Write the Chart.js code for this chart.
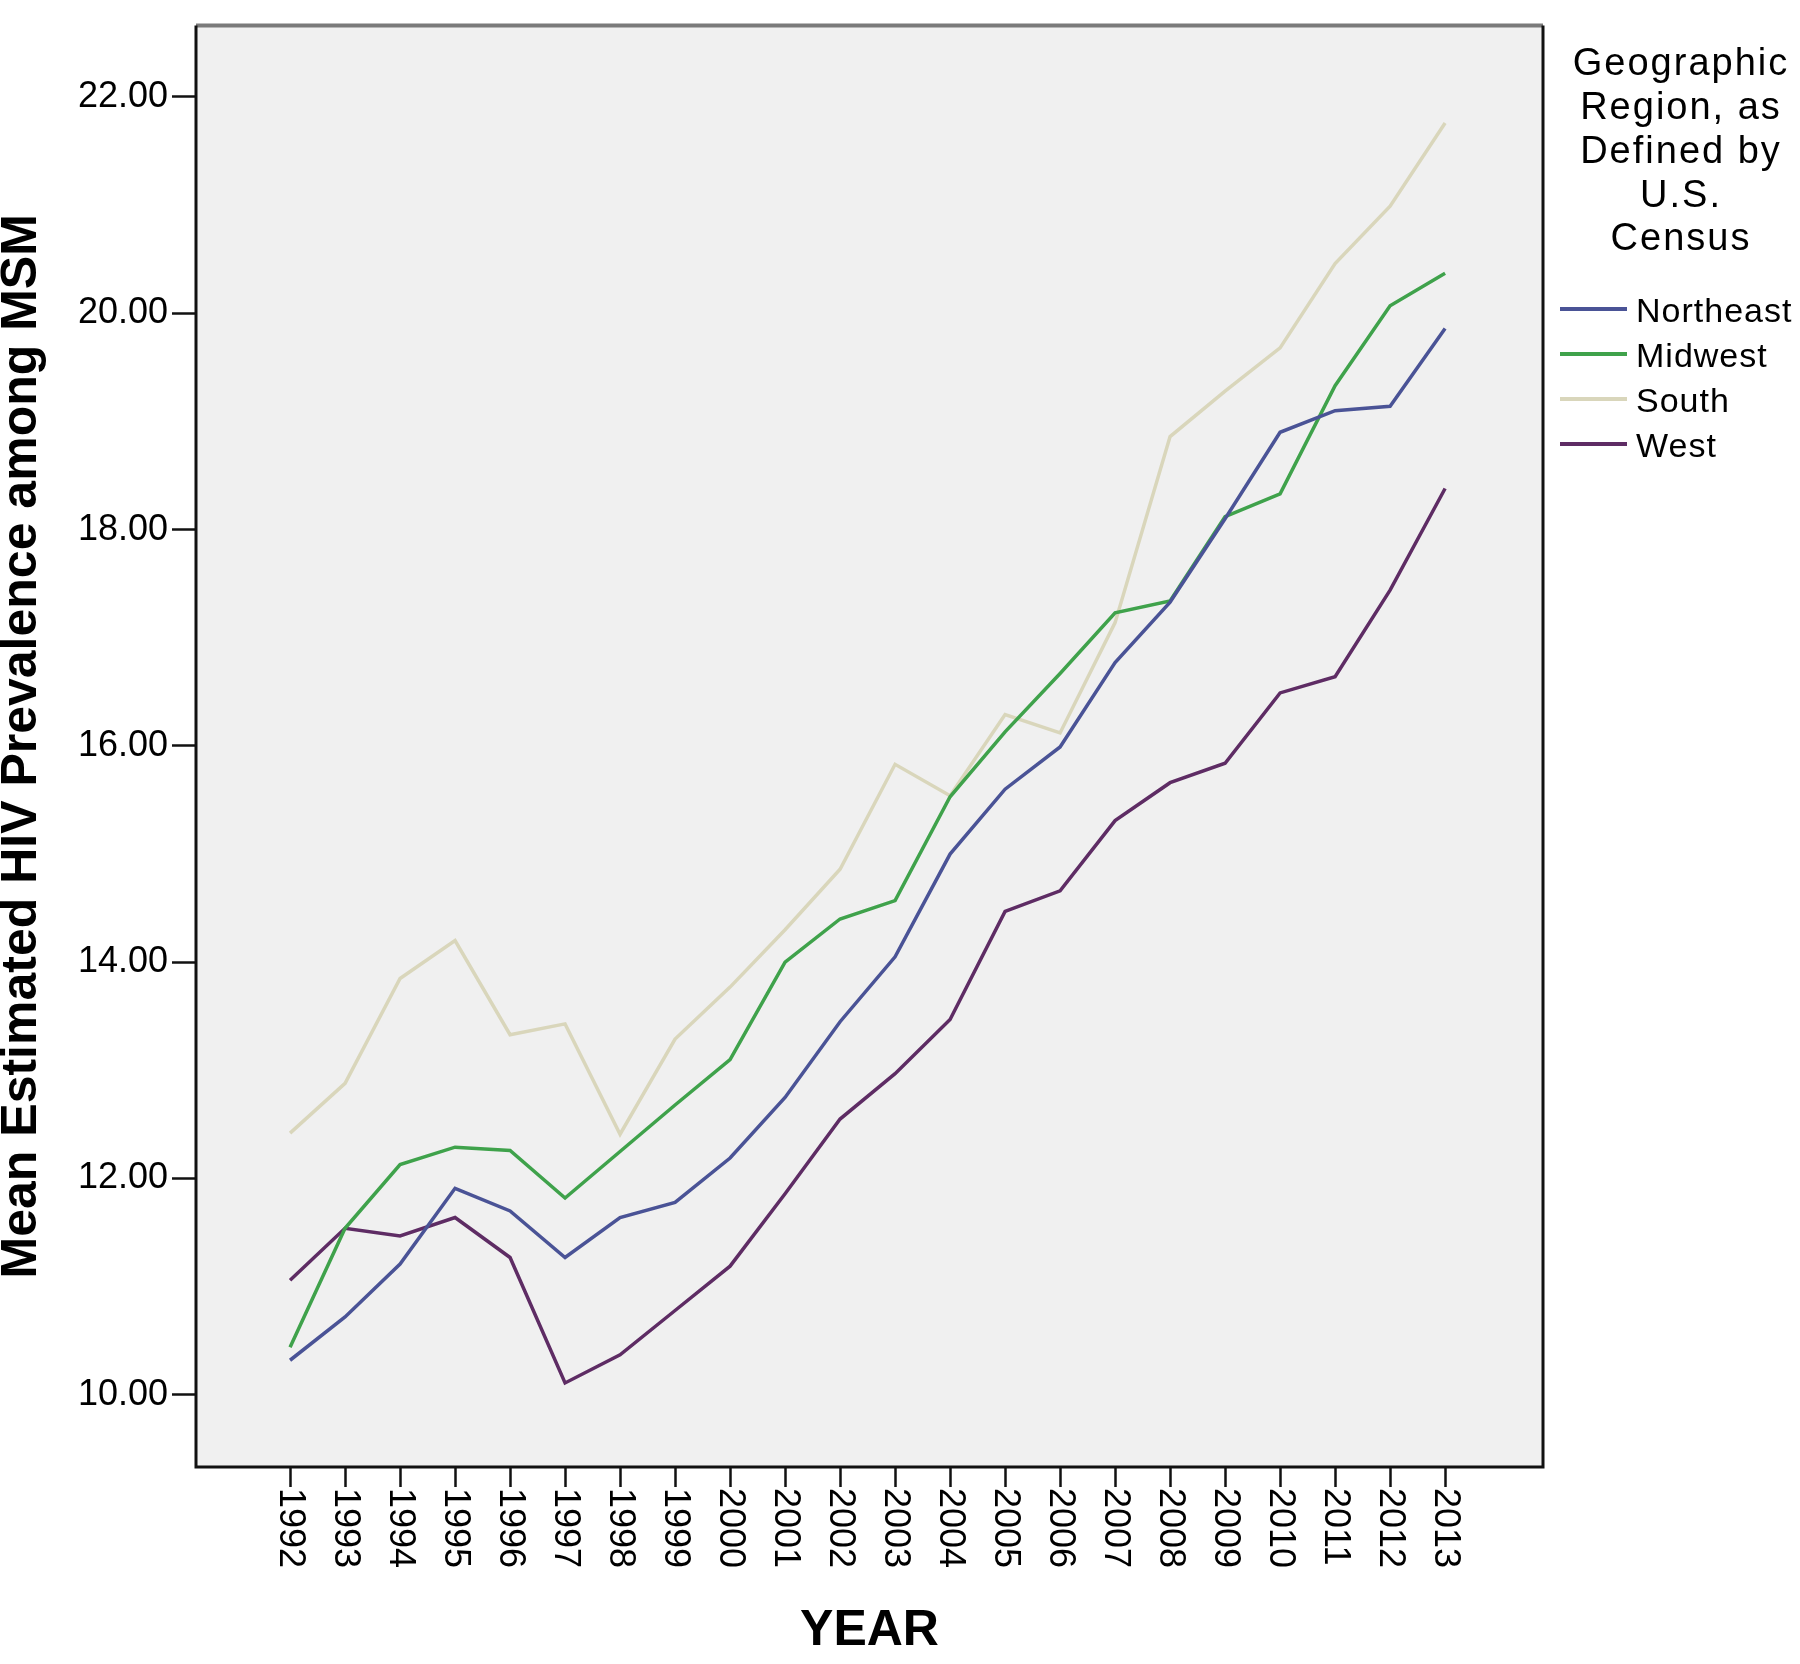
<!DOCTYPE html>
<html>
<head>
<meta charset="utf-8">
<script src="https://cdn.jsdelivr.net/npm/chart.js@4.4.1/dist/chart.umd.min.js"></script>
<style>
    html, body { margin: 0; padding: 0; background: #fff; }
    #wrap { width: 1800px; height: 1664px; }
</style>
</head>
<body>
<div id="wrap"><canvas id="chart"></canvas></div>
<script>
const years = [1992, 1993, 1994, 1995, 1996, 1997, 1998, 1999, 2000, 2001, 2002,
    2003, 2004, 2005, 2006, 2007, 2008, 2009, 2010, 2011, 2012, 2013];

const northeast = [10.32, 10.72, 11.21, 11.91, 11.70, 11.27, 11.64, 11.78, 12.19, 12.75, 13.45,
    14.05, 15.00, 15.60, 15.99, 16.77, 17.33, 18.10, 18.90, 19.10, 19.14, 19.86];
const midwest = [10.44, 11.54, 12.13, 12.29, 12.26, 11.82, 12.25, 12.68, 13.10, 14.00, 14.40,
    14.57, 15.53, 16.13, 16.67, 17.23, 17.34, 18.12, 18.33, 19.33, 20.07, 20.37];
const south = [12.42, 12.88, 13.85, 14.20, 13.33, 13.43, 12.41, 13.29, 13.77, 14.30, 14.86,
    15.83, 15.54, 16.29, 16.12, 17.14, 18.86, 19.28, 19.68, 20.46, 20.99, 21.76];
const west = [11.06, 11.54, 11.47, 11.64, 11.27, 10.11, 10.37, 10.78, 11.19, 11.86, 12.55,
    12.97, 13.47, 14.47, 14.66, 15.31, 15.66, 15.84, 16.49, 16.64, 17.44, 18.38];

const yTicks = [10, 12, 14, 16, 18, 20, 22];
const legendTitle = ["Geographic", "Region, as", "Defined by", "U.S.", "Census"];

const FONT = "'Liberation Sans', Arial, sans-serif";

function toPoints(values) {
    return years.map((y, i) => ({ x: y, y: values[i] }));
}

// plot background, frame, rotated year labels, legend
const decor = {
    id: "decor",
    beforeDraw(chart) {
        const { ctx, chartArea: a } = chart;
        ctx.save();
        ctx.fillStyle = "#f0f0f0";
        ctx.fillRect(a.left, a.top, a.right - a.left, a.bottom - a.top);
        ctx.restore();
    },
    afterDraw(chart) {
        const { ctx, chartArea: a } = chart;
        const xs = chart.scales.x;

        ctx.save();
        // frame
        ctx.strokeStyle = "#7a7a7a";
        ctx.lineWidth = 4;
        ctx.beginPath();
        ctx.moveTo(a.left, a.top);
        ctx.lineTo(a.right, a.top);
        ctx.stroke();
        ctx.strokeStyle = "#111";
        ctx.lineWidth = 3;
        ctx.beginPath();
        ctx.moveTo(a.left, a.top);
        ctx.lineTo(a.left, a.bottom);
        ctx.lineTo(a.right, a.bottom);
        ctx.lineTo(a.right, a.top);
        ctx.stroke();

        // year labels, reading top to bottom
        ctx.fillStyle = "#000";
        ctx.font = "36px " + FONT;
        ctx.textAlign = "left";
        ctx.textBaseline = "middle";
        years.forEach(yr => {
            const px = xs.getPixelForValue(yr);
            ctx.save();
            ctx.translate(px, a.bottom + 21);
            ctx.rotate(Math.PI / 2);
            ctx.fillText(String(yr), 0, 0);
            ctx.restore();
        });

        // legend
        const cx = 1681;
        ctx.textAlign = "center";
        ctx.font = "38px " + FONT;
        ctx.letterSpacing = "2px";
        legendTitle.forEach((t, i) => {
            ctx.fillText(t, cx, 65 + i * 43.7);
        });

        ctx.textAlign = "left";
        ctx.font = "34px " + FONT;
        ctx.letterSpacing = "1px";
        chart.data.datasets.forEach((ds, i) => {
            const y = 313 + i * 45;
            ctx.strokeStyle = ds.borderColor;
            ctx.lineWidth = 4;
            ctx.beginPath();
            ctx.moveTo(1560, y - 4);
            ctx.lineTo(1627, y - 4);
            ctx.stroke();
            ctx.fillText(ds.label, 1636, y);
        });
        ctx.restore();
    }
};

const ctx = document.getElementById("chart").getContext("2d");

new Chart(ctx, {
    type: "line",
    data: {
        datasets: [
            { label: "Northeast", data: toPoints(northeast), borderColor: "#4a5396" },
            { label: "Midwest", data: toPoints(midwest), borderColor: "#3fa24b" },
            { label: "South", data: toPoints(south), borderColor: "#d9d6bb" },
            { label: "West", data: toPoints(west), borderColor: "#5e2c64" }
        ]
    },
    options: {
        responsive: true,
        maintainAspectRatio: false,
        animation: false,
        layout: {
            padding: { left: 0, top: 17, right: 257, bottom: 0 }
        },
        elements: {
            line: { borderWidth: 3.5, tension: 0, fill: false },
            point: { radius: 0, hoverRadius: 0 }
        },
        scales: {
            x: {
                type: "linear",
                min: 1990.29,
                max: 2014.78,
                afterBuildTicks: s => { s.ticks = years.map(v => ({ value: v })); },
                afterFit: s => { s.height = 197; },
                border: { display: false },
                grid: {
                    drawOnChartArea: false,
                    drawTicks: true,
                    tickLength: 20,
                    tickWidth: 2.5,
                    tickColor: "#111"
                },
                ticks: { display: false },
                title: {
                    display: true,
                    text: "YEAR",
                    color: "#000",
                    font: { family: FONT, size: 50, weight: "bold", lineHeight: 1.2 },
                    padding: { top: 0, bottom: 3 }
                }
            },
            y: {
                min: 9.333,
                max: 22.66,
                afterBuildTicks: s => { s.ticks = yTicks.map(v => ({ value: v })); },
                afterFit: s => { s.width = 196; },
                border: { display: false },
                grid: {
                    drawOnChartArea: false,
                    drawTicks: true,
                    tickLength: 24,
                    tickWidth: 2.5,
                    tickColor: "#111"
                },
                ticks: {
                    color: "#000",
                    padding: 4,
                    font: { family: FONT, size: 36 },
                    callback: v => Number(v).toFixed(2)
                },
                title: {
                    display: true,
                    text: "Mean Estimated HIV Prevalence among MSM",
                    color: "#000",
                    font: { family: FONT, size: 50, weight: "bold", lineHeight: 0.8 },
                    padding: { top: 2, bottom: 0 }
                }
            }
        },
        plugins: {
            legend: { display: false },
            tooltip: { enabled: false }
        }
    },
    plugins: [decor]
});
</script>
</body>
</html>
